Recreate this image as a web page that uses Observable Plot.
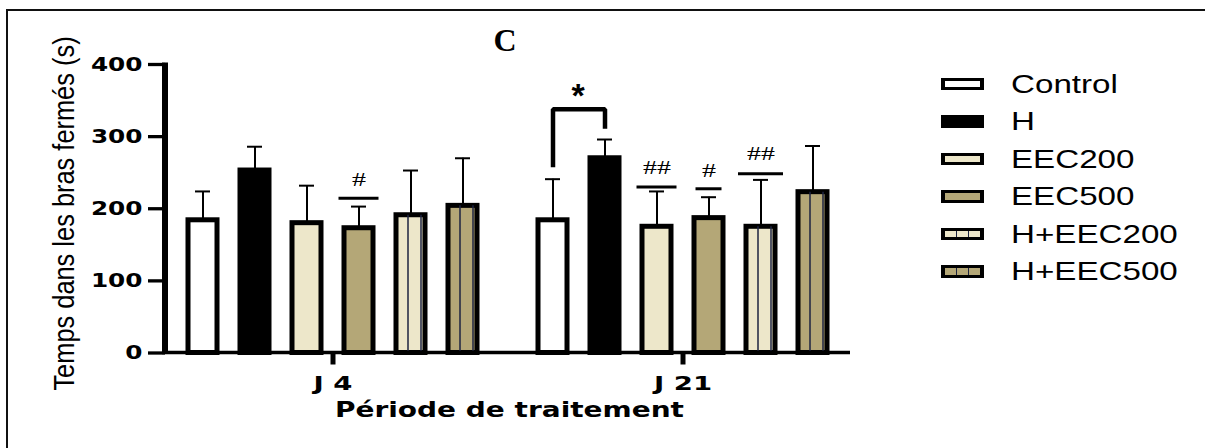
<!DOCTYPE html>
<html><head><meta charset="utf-8">
<script src="https://cdn.jsdelivr.net/npm/d3@7"></script>
<script src="https://cdn.jsdelivr.net/npm/@observablehq/plot@0.6"></script>
<style>
body{margin:0;background:#fff;}
#wrap{position:relative;width:1205px;height:448px;overflow:hidden;background:#fff;font-family:"Liberation Sans",Arial,sans-serif;color:#000;}
#frame{position:absolute;left:6px;top:9px;width:1400px;height:600px;border-left:2px solid #111;border-top:2px solid #111;}
#chart{position:absolute;left:0;top:0;}
#title{position:absolute;left:455px;width:100px;top:25px;text-align:center;font:bold 32px/31px "Liberation Serif","Times New Roman",serif;}
#legend{position:absolute;left:941px;top:65px;}
.row{height:37.5px;display:flex;align-items:center;}
.sw{width:43px;height:12.5px;box-sizing:border-box;border:solid #000;border-width:3.5px 4px;display:flex;}
.sw span{flex:1;}
.lab{margin-left:27px;font-size:25.5px;line-height:26px;transform:scaleX(1.3);transform-origin:left center;white-space:nowrap;}
</style>
</head><body>
<div id="wrap">
  <div id="frame"></div>
  <div id="chart"></div>
  <div id="title">C</div>
  <div id="legend"></div>
</div>
<script>
// ---- data ----
const periods = ["J 4", "J 21"];
const groups = ["Control", "H", "EEC200", "EEC500", "H+EEC200", "H+EEC500"];
const meanJ4 = [184, 253, 180, 173, 191, 204];
const semJ4 = [40, 33, 52, 30, 62, 66];
const meanJ21 = [184, 270, 175, 187, 175, 223];
const semJ21 = [57, 26, 49, 29, 65, 64];
const fillColors = ["#ffffff", "#000000", "#ede7ca", "#b4a777", "#ede7ca", "#b4a777"];
const hatchedGroups = ["H+EEC200", "H+EEC500"];
const yTicks = [0, 100, 200, 300, 400];
// significance marks (#)
const sigPeriod = ["J 4", "J 21", "J 21", "J 21"];
const sigGroup = ["EEC500", "EEC200", "EEC500", "H+EEC200"];
const sigLabel = ["#", "##", "#", "##"];
const sigLineValue = [214.5, 230, 227.7, 248.5];
const sigTextValue = [239.6, 256.5, 252.4, 275];
// bracket (*) between Control and H at J 21
const bracketPeriod = "J 21";
const bracketGroup = ["Control", "Control", "H", "H"];
const bracketValue = [257.7, 338, 338, 311];
const starLabel = "*";
const starValue = 356;
const xTitle = "Période de traitement";
const yTitle = "Temps dans les bras fermés (s)";
const legendLabels = groups;

// ---- tables ----
const means = [meanJ4, meanJ21], sems = [semJ4, semJ21];
const rows = [];
periods.forEach((p, pi) => groups.forEach((g, gi) =>
  rows.push({period: p, group: g, mean: means[pi][gi], sem: sems[pi][gi]})));
const hatchRows = rows.filter(d => hatchedGroups.includes(d.group));
const sig = sigLabel.map((l, i) => ({period: sigPeriod[i], group: sigGroup[i], label: l, line: sigLineValue[i], text: sigTextValue[i]}));
const bracket = bracketGroup.map((g, i) => ({period: bracketPeriod, group: g, value: bracketValue[i]}));
const star = [{period: bracketPeriod, group: bracketGroup[0], value: starValue, label: starLabel}];

const sigWidths = [40, 40, 26, 45];
const BW = 29;
const BOLD = "DejaVu Sans, Liberation Sans, Arial, sans-serif";

const chart = Plot.plot({
  width: 1205,
  height: 448,
  marginLeft: 165,
  marginRight: 355,
  marginTop: 64,
  marginBottom: 95.5,
  style: {fontFamily: "Liberation Sans, Arial, sans-serif", color: "#000", background: "transparent", overflow: "visible"},
  fx: {domain: periods, paddingInner: 0.043, paddingOuter: 0, label: null},
  x: {domain: groups, paddingInner: 0.447, paddingOuter: 0.42, axis: null, label: null},
  y: {domain: [0, 400], label: null},
  color: {domain: groups, range: fillColors},
  marks: [
    Plot.barY(rows, {fx: "period", x: "group", y: "mean", fill: "group", stroke: "#000", strokeWidth: 5}),
    Plot.ruleX(hatchRows, {fx: "period", x: "group", y1: 0, y2: "mean", dx: -3, stroke: "#1c2340", strokeWidth: 1.5}),
    Plot.ruleX(hatchRows, {fx: "period", x: "group", y1: 0, y2: "mean", dx: 10, stroke: "#1c2340", strokeWidth: 1.5}),
    Plot.ruleX(rows, {fx: "period", x: "group", y1: "mean", y2: d => d.mean + d.sem, stroke: "#000", strokeWidth: 2}),
    Plot.tickY(rows, {fx: "period", x: "group", y: d => d.mean + d.sem, stroke: "#000", strokeWidth: 2, insetLeft: 7, insetRight: 7}),
    ...sig.map((s, i) => Plot.tickY([s], {fx: "period", x: "group", y: "line", stroke: "#000", strokeWidth: 3,
        insetLeft: (BW - sigWidths[i]) / 2, insetRight: (BW - sigWidths[i]) / 2})),
    Plot.text(sig, {fx: "period", x: "group", y: "text", text: "label", fontFamily: "Liberation Serif, serif", fontSize: 18, fill: "#000"}),
    Plot.line(bracket, {fx: "period", x: "group", y: "value", stroke: "#000", strokeWidth: 4.5, strokeLinejoin: "miter", strokeLinecap: "butt"}),
    Plot.text(star, {fx: "period", x: "group", y: "value", text: "label", dx: 25, fontSize: 34, fontWeight: "bold", fill: "#000"}),
    Plot.axisY({ticks: yTicks, tickSize: 17, tickPadding: 6, strokeWidth: 3.3, fontSize: 19, fontWeight: "bold", fontFamily: BOLD, label: null}),
    Plot.axisFx({anchor: "bottom", tickSize: 12, tickPadding: 11, strokeWidth: 5, fontSize: 19, fontWeight: "bold", fontFamily: BOLD, label: null})
  ]
});
document.getElementById("chart").appendChild(chart);

// axis lines through the plot's scales
const svg = d3.select(chart);
const fxS = chart.scale("fx"), yS = chart.scale("y");
const left = fxS.apply(periods[0]);
const right = fxS.apply(periods[periods.length - 1]) + fxS.bandwidth;
svg.append("line").attr("x1", left - 3).attr("x2", right)
  .attr("y1", yS.apply(0)).attr("y2", yS.apply(0)).attr("stroke", "#000").attr("stroke-width", 3.5);
svg.append("line").attr("x1", left).attr("x2", left)
  .attr("y1", yS.apply(0) + 1.5).attr("y2", yS.apply(400) - 1.6).attr("stroke", "#000").attr("stroke-width", 6);

// axis titles
svg.append("text").attr("x", 509.5).attr("y", 417).attr("text-anchor", "middle")
  .attr("font-weight", "bold").attr("font-family", BOLD).attr("font-size", 21.5).attr("fill", "#000")
  .attr("textLength", 349).attr("lengthAdjust", "spacingAndGlyphs").text(xTitle);
svg.append("text").attr("transform", "translate(73.5,213.5) rotate(-90) scale(1,1.19)").attr("text-anchor", "middle")
  .attr("font-size", 25.4).attr("fill", "#000").text(yTitle);

function stretch(sel, k) {
  sel.each(function () {
    const L = this.getComputedTextLength();
    this.setAttribute("textLength", (L * k).toFixed(1));
    this.setAttribute("lengthAdjust", "spacingAndGlyphs");
  });
}
stretch(svg.selectAll('g[aria-label="y-axis tick label"] text'), 1.3);
stretch(svg.selectAll('g[aria-label="fx-axis tick label"] text'), 1.45);
stretch(svg.selectAll("text").filter(function () { return /^#+$/.test(this.textContent); }), 1.55);

// legend
const legend = d3.select("#legend");
groups.forEach((g, i) => {
  const row = legend.append("div").attr("class", "row");
  const sw = row.append("div").attr("class", "sw").style("background", fillColors[i]);
  if (hatchedGroups.includes(g)) {
    for (let k = 0; k < 3; k++) sw.append("span").style("border-left", k ? "1.5px solid #1c2340" : "none");
  }
  row.append("div").attr("class", "lab").text(legendLabels[i]);
});
</script>
</body></html>
